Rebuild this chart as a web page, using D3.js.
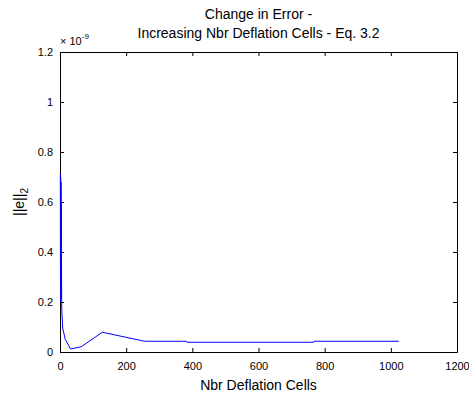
<!DOCTYPE html>
<html>
<head>
<meta charset="utf-8">
<script src="https://cdn.jsdelivr.net/npm/d3@7"></script>
<style>
  body { margin: 0; background: #fff; }
  text { font-family: "Liberation Sans", Arial, sans-serif; fill: #000; }
  .axis path, .axis line { stroke: #000; }
</style>
</head>
<body>
<div id="chart"></div>
<script>
// data (y values in units of 1e-9)
var cells = [1, 1.5, 2, 2.5, 3, 3.5, 4, 5, 6, 8, 16, 32, 64, 128, 256, 383, 384, 767, 768, 1024];
var errNorm = [0.716, 0.2, 0.7, 0.21, 0.68, 0.22, 0.6, 0.2, 0.15, 0.096, 0.05, 0.012, 0.021, 0.079, 0.043, 0.043, 0.039, 0.039, 0.043, 0.043];
var xTicks = [0, 200, 400, 600, 800, 1000, 1200];
var yTicks = [0, 0.2, 0.4, 0.6, 0.8, 1, 1.2];

var svgWidth = 469;
var svgHeight = 394;

var margin = { top: 52, right: 12, bottom: 42, left: 60 };
var width = svgWidth - margin.left - margin.right;
var height = svgHeight - margin.top - margin.bottom;

var svg = d3.select("#chart")
  .append("svg")
  .attr("width", svgWidth)
  .attr("height", svgHeight);

var g = svg.append("g")
  .attr("transform", `translate(${margin.left}, ${margin.top})`);

var x = d3.scaleLinear().domain([0, 1200]).range([0, width]);
var y = d3.scaleLinear().domain([0, 1.2]).range([height, 0]);

var fmt = d3.format("~g");

// bottom axis with labels, ticks pointing in
g.append("g")
  .attr("class", "axis")
  .attr("transform", `translate(0, ${height})`)
  .call(d3.axisBottom(x).tickValues(xTicks).tickFormat(fmt).tickSizeInner(-4).tickSizeOuter(0).tickPadding(10))
  .call(s => s.selectAll("text").style("font-size", "11px"));

// left axis
g.append("g")
  .attr("class", "axis")
  .call(d3.axisLeft(y).tickValues(yTicks).tickFormat(fmt).tickSizeInner(-4).tickSizeOuter(0).tickPadding(7))
  .call(s => s.selectAll("text").style("font-size", "11px"));

// top and right axes, no labels
g.append("g")
  .attr("class", "axis")
  .call(d3.axisTop(x).tickValues(xTicks).tickFormat("").tickSizeInner(-4).tickSizeOuter(0));

g.append("g")
  .attr("class", "axis")
  .attr("transform", `translate(${width}, 0)`)
  .call(d3.axisRight(y).tickValues(yTicks).tickFormat("").tickSizeInner(-4).tickSizeOuter(0));

// the error line
var line = d3.line()
  .x((d, i) => x(cells[i]))
  .y(d => y(d));

g.append("path")
  .datum(errNorm)
  .attr("fill", "none")
  .attr("stroke", "#0000ff")
  .attr("stroke-width", 1)
  .attr("d", line);

// exponent label
var expo = g.append("text")
  .attr("x", 0)
  .attr("y", -7)
  .style("font-size", "11px");
expo.append("tspan").text("\u00d7 10");
expo.append("tspan").attr("dy", -6).style("font-size", "8px").text("-9");

// title
svg.append("text")
  .attr("x", margin.left + width / 2)
  .attr("y", 19)
  .attr("text-anchor", "middle")
  .style("font-size", "14px")
  .text("Change in Error -");

svg.append("text")
  .attr("x", margin.left + width / 2)
  .attr("y", 38)
  .attr("text-anchor", "middle")
  .style("font-size", "14px")
  .text("Increasing Nbr Deflation Cells - Eq. 3.2");

// x label
svg.append("text")
  .attr("x", margin.left + width / 2)
  .attr("y", 390)
  .attr("text-anchor", "middle")
  .style("font-size", "14px")
  .text("Nbr Deflation Cells");

// y label
var ylab = svg.append("text")
  .attr("transform", `translate(24, ${margin.top + height / 2}) rotate(-90)`)
  .attr("text-anchor", "middle")
  .style("font-size", "14px");
ylab.append("tspan").text("||e||");
ylab.append("tspan").attr("dy", 4).style("font-size", "10px").text("2");
</script>
</body>
</html>
